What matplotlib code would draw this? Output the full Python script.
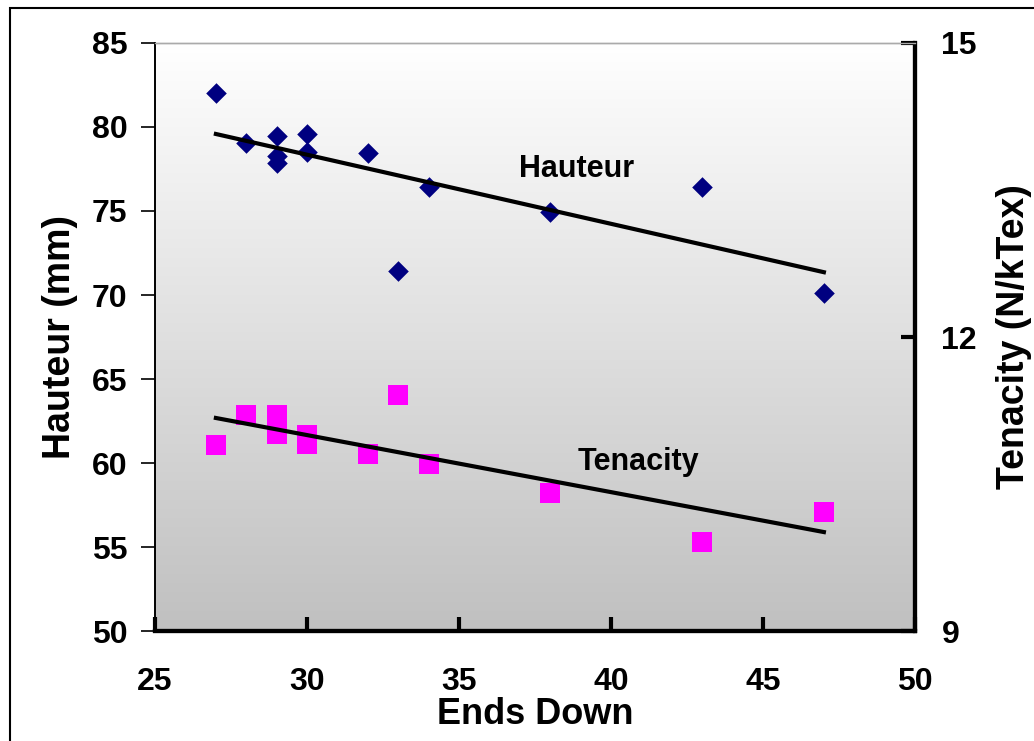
import numpy as np
import matplotlib
matplotlib.use("Agg")
import matplotlib.pyplot as plt
from matplotlib.patches import Rectangle
from matplotlib.colors import LinearSegmentedColormap

plt.rcParams.update({
    "font.family": ["Liberation Sans", "DejaVu Sans"],
    "font.weight": "bold",
})

# Ends Down for each sample
ends_down = [27, 28, 29, 29, 29, 30, 30, 32, 33, 34, 38, 43, 47]
# Hauteur (mm), left axis
hauteur = [82.0, 79.05, 79.45, 78.25, 77.85, 79.6, 78.5, 78.45, 71.4, 76.45, 74.95, 76.45, 70.1]
# Tenacity (N/kTex), right axis
tenacity = [10.90, 11.20, 11.20, 11.01, 11.05, 11.00, 10.91, 10.81, 11.41, 10.70, 10.41, 9.91, 10.21]

x_ticks = [25, 30, 35, 40, 45, 50]
h_ticks = [50, 55, 60, 65, 70, 75, 80, 85]
t_ticks = [9, 12, 15]

fig = plt.figure(figsize=(10.34, 7.41), dpi=100)
ax = fig.add_axes([0.150, 0.1484, 0.735, 0.7936])
ax2 = ax.twinx()

# outer frame
fig.patches.append(Rectangle((10 / 1034, -0.05), 1.1, 1 - 8 / 741 + 0.05,
                             transform=fig.transFigure, fill=False,
                             edgecolor="black", linewidth=1.5))

# gradient background
grad = np.linspace(0, 1, 256).reshape(-1, 1)
cmap = LinearSegmentedColormap.from_list("g", ["#ffffff", "#c0c0c0"])
ax.imshow(grad, cmap=cmap, aspect="auto", extent=[0, 1, 0, 1],
          transform=ax.transAxes, zorder=0)

x = np.array(ends_down, dtype=float)
ax.scatter(x, hauteur, marker="D", s=110, color="#000080", zorder=3, linewidths=0)
ax2.scatter(x, tenacity, marker="s", s=190, color="#ff00ff", zorder=3, linewidths=0)

# linear trend lines over the data range
xs = np.array([x.min(), x.max()])
ph = np.polyfit(x, hauteur, 1)
pt = np.polyfit(x, tenacity, 1)
ax.plot(xs, np.polyval(ph, xs), color="black", lw=3, zorder=4)
ax2.plot(xs, np.polyval(pt, xs), color="black", lw=3, zorder=4)

ax.text(38.85, 77.5, "Hauteur", ha="center", va="center", fontsize=22, fontweight="bold")
ax2.text(40.9, 10.72, "Tenacity", ha="center", va="center", fontsize=22, fontweight="bold")

ax.set_xlim(25, 50)
ax.set_ylim(50, 85)
ax2.set_ylim(9, 15)
ax.set_xticks(x_ticks)
ax.set_yticks(h_ticks)
ax2.set_yticks(t_ticks)

ax.tick_params(axis="x", direction="in", length=10, width=3, labelsize=23, pad=26)
ax.tick_params(axis="y", direction="out", length=10, width=1.2, labelsize=23, pad=10)
ax2.tick_params(axis="y", direction="in", length=10, width=3, labelsize=23, pad=19)
for lab in ax.get_xticklabels() + ax.get_yticklabels() + ax2.get_yticklabels():
    lab.set_fontweight("bold")

ax.set_xlabel("Ends Down", fontsize=26, fontweight="bold", labelpad=0)
ax.set_ylabel("Hauteur (mm)", fontsize=27, fontweight="bold", labelpad=10)
ax2.set_ylabel("Tenacity (N/kTex)", fontsize=27, fontweight="bold", labelpad=14)

for a in (ax, ax2):
    a.spines["left"].set_linewidth(1.2)
    a.spines["bottom"].set_linewidth(3)
    a.spines["right"].set_linewidth(3)
    a.spines["top"].set_linewidth(1)
    a.spines["top"].set_color("#aaaaaa")

fig.savefig("out.png", dpi=100)
